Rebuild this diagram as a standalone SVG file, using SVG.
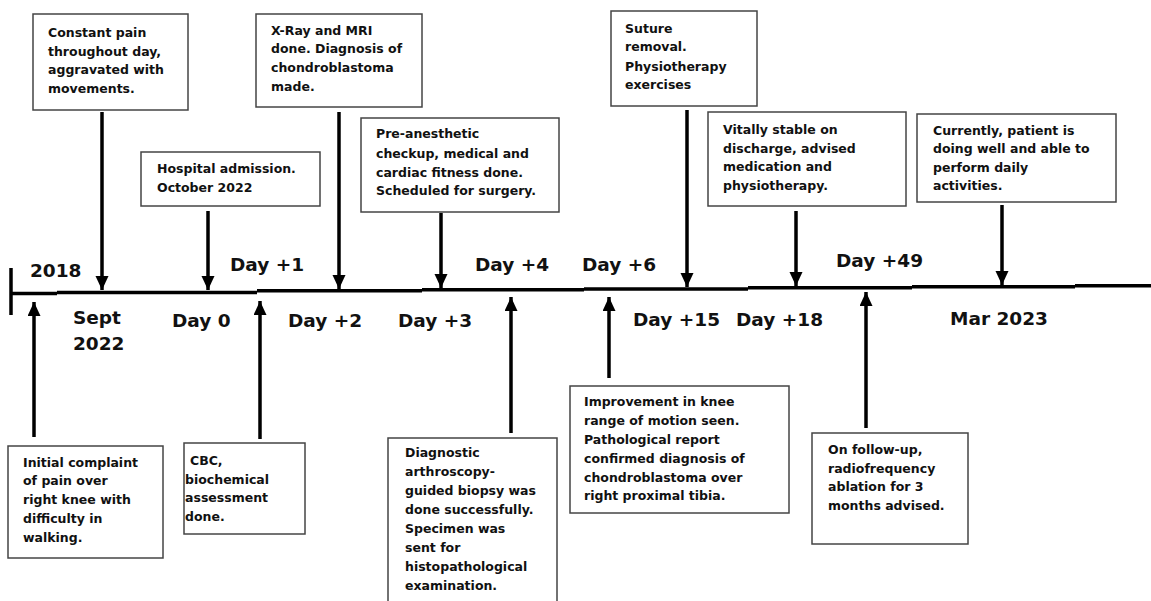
<svg xmlns="http://www.w3.org/2000/svg" width="1151" height="601" viewBox="0 0 1151 601">
<style>
.box{fill:#fff;stroke:#444;stroke-width:1.5}
.t{font-family:"DejaVu Sans",Verdana,sans-serif;font-weight:bold;font-size:12.5px;fill:#111}
.lab{font-family:"DejaVu Sans",Verdana,sans-serif;font-weight:bold;font-size:18.5px;fill:#111}
.axis{stroke:#000;stroke-width:3.5;fill:none}
.arr{stroke:#000;stroke-width:3.5;fill:none;marker-end:url(#ah)}
</style>
<defs>
<marker id="ah" markerUnits="userSpaceOnUse" markerWidth="15" markerHeight="14" refX="14" refY="6.5" orient="auto">
<path d="M0,0 L14,6.5 L0,13 Z" fill="#000"/>
</marker>
</defs>
<rect width="1151" height="601" fill="#fff"/>
<g id="timeline">
<line class="axis" x1="11" y1="268" x2="11" y2="315"/>
<path class="axis" d="M11,293.5 H57 M57,292.5 H257 M257,290.8 H422 M422,289.8 H584 M584,289 H748 M748,287.8 H912 M912,286.8 H1075 M1075,285.8 H1151"/>
</g>
<g id="labels">
<text class="lab" x="30" y="277">2018</text>
<text class="lab" x="73" y="324">Sept</text>
<text class="lab" x="73" y="350">2022</text>
<text class="lab" x="172" y="327">Day 0</text>
<text class="lab" x="230" y="271">Day +1</text>
<text class="lab" x="288" y="327">Day +2</text>
<text class="lab" x="398" y="327">Day +3</text>
<text class="lab" x="475" y="271">Day +4</text>
<text class="lab" x="582" y="271">Day +6</text>
<text class="lab" x="633" y="326">Day +15</text>
<text class="lab" x="736" y="326">Day +18</text>
<text class="lab" x="836" y="267">Day +49</text>
<text class="lab" x="950" y="325">Mar 2023</text>
</g>
<g id="connectors">
<line class="arr" x1="102" y1="112" x2="102" y2="290"/>
<line class="arr" x1="208" y1="211" x2="208" y2="290"/>
<line class="arr" x1="339" y1="112" x2="339" y2="289"/>
<line class="arr" x1="441" y1="213" x2="441" y2="288"/>
<line class="arr" x1="687" y1="110" x2="687" y2="287"/>
<line class="arr" x1="796" y1="211" x2="796" y2="286"/>
<line class="arr" x1="1002" y1="205" x2="1002" y2="285"/>
<line class="arr" x1="34" y1="437" x2="34" y2="302"/>
<line class="arr" x1="260" y1="439" x2="260" y2="301"/>
<line class="arr" x1="511" y1="433" x2="511" y2="297"/>
<line class="arr" x1="609" y1="378" x2="609" y2="297"/>
<line class="arr" x1="866" y1="428" x2="866" y2="292"/>
</g>
<g id="nodeA">
<rect class="box" x="33" y="14" width="155" height="96"/>
<text class="t" x="48" y="37">Constant pain</text>
<text class="t" x="48" y="56">throughout day,</text>
<text class="t" x="48" y="74">aggravated with</text>
<text class="t" x="48" y="93">movements.</text>
</g>
<g id="nodeB">
<rect class="box" x="256" y="14" width="166" height="93"/>
<text class="t" x="271" y="35">X-Ray and MRI</text>
<text class="t" x="271" y="53">done. Diagnosis of</text>
<text class="t" x="271" y="72">chondroblastoma</text>
<text class="t" x="271" y="91">made.</text>
</g>
<g id="nodeC">
<rect class="box" x="141" y="152" width="179" height="54"/>
<text class="t" x="157" y="173">Hospital admission.</text>
<text class="t" x="157" y="192">October 2022</text>
</g>
<g id="nodeD">
<rect class="box" x="361" y="118" width="198" height="94"/>
<text class="t" x="376" y="138">Pre-anesthetic</text>
<text class="t" x="376" y="158">checkup, medical and</text>
<text class="t" x="376" y="177">cardiac fitness done.</text>
<text class="t" x="376" y="195">Scheduled for surgery.</text>
</g>
<g id="nodeE">
<rect class="box" x="611" y="11" width="146" height="95"/>
<text class="t" x="625" y="33">Suture</text>
<text class="t" x="625" y="51">removal.</text>
<text class="t" x="625" y="71">Physiotherapy</text>
<text class="t" x="625" y="89">exercises</text>
</g>
<g id="nodeF">
<rect class="box" x="708" y="112" width="198" height="94"/>
<text class="t" x="723" y="134">Vitally stable on</text>
<text class="t" x="723" y="153">discharge, advised</text>
<text class="t" x="723" y="171">medication and</text>
<text class="t" x="723" y="190">physiotherapy.</text>
</g>
<g id="nodeG">
<rect class="box" x="917" y="114" width="199" height="88"/>
<text class="t" x="933" y="135">Currently, patient is</text>
<text class="t" x="933" y="153">doing well and able to</text>
<text class="t" x="933" y="172">perform daily</text>
<text class="t" x="933" y="190">activities.</text>
</g>
<g id="nodeH">
<rect class="box" x="8" y="446" width="155" height="112"/>
<text class="t" x="23" y="467">Initial complaint</text>
<text class="t" x="23" y="485">of pain over</text>
<text class="t" x="23" y="504">right knee with</text>
<text class="t" x="23" y="523">difficulty in</text>
<text class="t" x="23" y="542">walking.</text>
</g>
<g id="nodeI">
<rect class="box" x="184" y="443" width="121" height="91"/>
<text class="t" x="190" y="465">CBC,</text>
<text class="t" x="185" y="484">biochemical</text>
<text class="t" x="185" y="502">assessment</text>
<text class="t" x="185" y="521">done.</text>
</g>
<g id="nodeJ">
<path class="box" d="M388,603 V438 H557 V603"/>
<text class="t" x="405" y="457">Diagnostic</text>
<text class="t" x="405" y="476">arthroscopy-</text>
<text class="t" x="405" y="495">guided biopsy was</text>
<text class="t" x="405" y="514">done successfully.</text>
<text class="t" x="405" y="533">Specimen was</text>
<text class="t" x="405" y="552">sent for</text>
<text class="t" x="405" y="571">histopathological</text>
<text class="t" x="405" y="590">examination.</text>
</g>
<g id="nodeK">
<rect class="box" x="570" y="386" width="219" height="127"/>
<text class="t" x="584" y="406">Improvement in knee</text>
<text class="t" x="584" y="425">range of motion seen.</text>
<text class="t" x="584" y="444">Pathological report</text>
<text class="t" x="584" y="463">confirmed diagnosis of</text>
<text class="t" x="584" y="482">chondroblastoma over</text>
<text class="t" x="584" y="500">right proximal tibia.</text>
</g>
<g id="nodeL">
<rect class="box" x="812" y="433" width="156" height="111"/>
<text class="t" x="828" y="454">On follow-up,</text>
<text class="t" x="828" y="473">radiofrequency</text>
<text class="t" x="828" y="491">ablation for 3</text>
<text class="t" x="828" y="510">months advised.</text>
</g>
</svg>
